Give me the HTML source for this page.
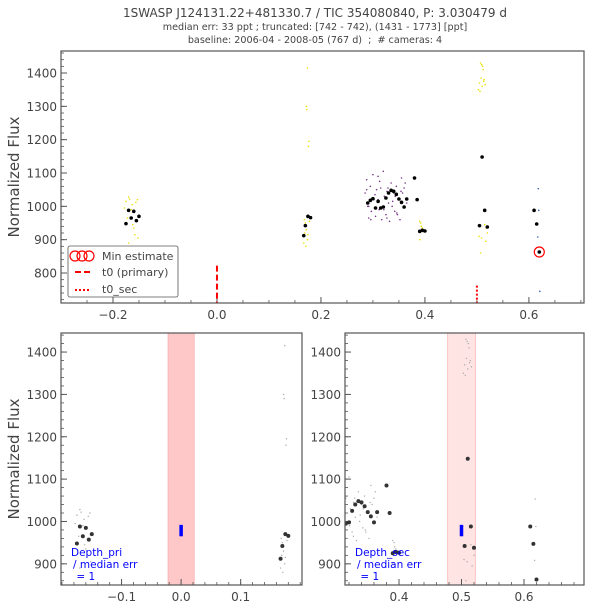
<!DOCTYPE html>
<html><head><meta charset="utf-8"><style>
body{margin:0;background:#fff;}
svg{display:block;font-family:"DejaVu Sans","Liberation Sans",sans-serif;}
</style></head><body>
<svg id="fig" width="589" height="609" viewBox="0 0 589 609" xmlns="http://www.w3.org/2000/svg">
<text x="315" y="17" text-anchor="middle" font-size="12" fill="#444">1SWASP J124131.22+481330.7 / TIC 354080840, P: 3.030479 d</text>
<text x="315" y="30" text-anchor="middle" font-size="9.6" fill="#444">median err: 33 ppt ; truncated: [742 - 742), (1431 - 1773] [ppt]</text>
<text x="315" y="43" text-anchor="middle" font-size="9.6" fill="#444" xml:space="preserve">baseline: 2006-04 - 2008-05 (767 d)  ;  # cameras: 4</text>
<g id="top"></g>
<g id="bl"></g>
<g id="br"></g>
</svg>
<script>
const binX=[-0.175,-0.17,-0.165,-0.16,-0.155,-0.15,0.167,0.17,0.175,0.18,0.29,0.295,0.3,0.305,0.31,0.315,0.32,0.325,0.33,0.335,0.34,0.345,0.35,0.355,0.36,0.365,0.38,0.385,0.39,0.395,0.4,0.505,0.51,0.515,0.52,0.61,0.615,0.62];
const binY=[948,988,965,985,957,970,912,942,970,966,1010,1018,1023,995,1015,995,998,1025,1040,1048,1045,1036,1022,1012,998,1022,1085,1020,925,928,926,942,1148,988,938,988,947,863];
const yelX=[-0.178,-0.175,-0.172,-0.17,-0.168,-0.165,-0.163,-0.16,-0.158,-0.156,-0.155,-0.153,-0.152,-0.17,-0.162,0.174,0.172,0.173,0.177,0.176,0.168,0.17,0.172,0.169,0.174,0.171,0.167,0.178,0.175,0.39,0.392,0.395,0.398,0.39,0.393,0.503,0.505,0.507,0.509,0.511,0.512,0.514,0.516,0.506,0.508,0.51,0.513,0.515,0.518,0.52,0.504,0.509,0.517,0.507];
const yelY=[995,1015,965,1028,1022,990,1005,935,915,1012,960,1020,905,890,945,1415,1300,1290,1195,1180,960,950,930,920,900,880,890,955,915,955,950,935,930,900,940,1350,1370,1430,1425,1420,1410,1380,1365,1345,1385,1360,1375,945,935,920,910,905,895,860];
const purX=[0.285,0.288,0.29,0.292,0.295,0.297,0.3,0.302,0.305,0.307,0.31,0.312,0.315,0.317,0.32,0.322,0.325,0.327,0.33,0.332,0.335,0.337,0.34,0.342,0.345,0.347,0.35,0.352,0.355,0.357,0.36,0.362,0.365,0.288,0.296,0.304,0.313,0.321,0.329,0.338,0.346,0.354,0.292,0.31,0.327,0.343,0.36];
const purY=[1040,1080,1000,965,1060,985,1095,1020,970,1050,1090,990,1055,960,1105,1030,975,1045,1010,955,1070,1000,1040,985,1060,975,1020,960,1085,1040,995,1070,1010,1050,960,1035,1075,990,1055,1015,980,1045,1000,1020,965,1030,1055];
const bluX=[0.618,0.619,0.617,0.621];
const bluY=[1053,988,908,745];
const xTop=[-0.2,0,0.2,0.4,0.6], yTop=[800,900,1000,1100,1200,1300,1400];
const xBL=[-0.1,0,0.1], xBR=[0.4,0.5,0.6], yBot=[900,1000,1100,1200,1300,1400];
const NS="http://www.w3.org/2000/svg";
function el(p,t,a){const e=document.createElementNS(NS,t);for(const k in a)e.setAttribute(k,a[k]);p.appendChild(e);return e;}
function panel(g,L,R,T,B,x0,x1,y0,y1,xt,yt,minorX,minorY,ylab){
  const sx=v=>L+(v-x0)/(x1-x0)*(R-L), sy=v=>B-(v-y0)/(y1-y0)*(B-T);
  for(let v=Math.ceil(x0/minorX)*minorX;v<=x1;v+=minorX){const x=sx(v);const l=el(g,'line',{x1:x,x2:x,y1:B,y2:B-3,stroke:'#555','stroke-width':0.8});}
  for(let v=Math.ceil(y0/minorY)*minorY;v<=y1;v+=minorY){const y=sy(v);const l=el(g,'line',{x1:L,x2:L+3,y1:y,y2:y,stroke:'#555','stroke-width':0.8});}
  xt.forEach(v=>{const x=sx(v);const l=el(g,'line',{x1:x,x2:x,y1:B,y2:B-6,stroke:'#555'});
    const t=el(g,'text',{x:x,y:B+16,'text-anchor':'middle','font-size':12,fill:'#444'});t.textContent=(v<0?'\u2212':'')+Math.abs(v).toFixed(1);});
  yt.forEach(v=>{const y=sy(v);const l=el(g,'line',{x1:L,x2:L+6,y1:y,y2:y,stroke:'#555'});
    const t=el(g,'text',{x:L-4,y:y+4.5,'text-anchor':'end','font-size':12,fill:'#444'});t.textContent=v;});
  if(ylab){const t=el(g,'text',{x:19,y:(T+B)/2,'text-anchor':'middle','font-size':15,fill:'#444',transform:`rotate(-90 19 ${(T+B)/2})`});t.textContent='Normalized Flux';}
  return {sx,sy};
}
function frame(g,L,R,T,B){const r=el(g,'rect',{x:L,y:T,width:R-L,height:B-T,fill:'none',stroke:'#555','stroke-width':1.2});}
function clip(id,L,R,T,B){const c=el(document.getElementById('fig'),'clipPath',{id:id});el(c,'rect',{x:L,y:T,width:R-L,height:B-T});}
function dots(g,X,Y,sx,sy,r,fill,name){X.forEach((x,i)=>{const c=el(g,'circle',{cx:sx(x),cy:sy(Y[i]),r:r,fill:fill});});}

(function(){const g=document.getElementById('top');const L=61,R=584,T=51,B=303;
 clip('ct',L,R,T,B);
 const {sx,sy}=panel(g,L,R,T,B,-0.3,0.706,710,1466,xTop,yTop,0.05,20,true);
 const d=el(g,'g',{'clip-path':'url(#ct)'});
 dots(d,yelX,yelY,sx,sy,0.8,'#e8e000','yellow-point');
 dots(d,purX,purY,sx,sy,0.8,'#7a3a8a','purple-point');
 dots(d,bluX,bluY,sx,sy,0.8,'#3060b0','blue-point');
 dots(d,binX,binY,sx,sy,1.8,'#000','binned-point');
 let l=el(d,'line',{x1:sx(0),x2:sx(0),y1:sy(822),y2:B,stroke:'red','stroke-width':2,'stroke-dasharray':'6,3'});
 l=el(d,'line',{x1:sx(0.5),x2:sx(0.5),y1:sy(762),y2:B,stroke:'red','stroke-width':2,'stroke-dasharray':'2,2'});
 const mc=el(d,'circle',{cx:sx(0.62),cy:sy(863),r:5,fill:'none',stroke:'red','stroke-width':1.2});
 frame(g,L,R,T,B);
 const lg=el(g,'g',{});
 el(lg,'rect',{x:68,y:246,width:110,height:51,rx:2,fill:'#fff',stroke:'#555','stroke-width':0.8});
 [75,82,89].forEach(cx=>el(lg,'circle',{cx:cx,cy:256,r:5,fill:'none',stroke:'red','stroke-width':1.2}));
 el(lg,'line',{x1:75,x2:90,y1:272,y2:272,stroke:'red','stroke-width':2,'stroke-dasharray':'6,3'});
 el(lg,'line',{x1:75,x2:90,y1:290,y2:290,stroke:'red','stroke-width':2,'stroke-dasharray':'2,2'});
 [['Min estimate',260,'legend-entry-min'],['t0 (primary)',276,'legend-entry-t0'],['t0_sec',293,'legend-entry-t0-sec']].forEach(a=>{const t=el(lg,'text',{x:102,y:a[1],'font-size':11,fill:'#444'});t.textContent=a[0];});
})();

function bottom(id,L,R,x0,x1,xt,band,bandCol,errX,label){
 const g=document.getElementById(id);const T=333,B=585;
 clip('c'+id,L,R,T,B);
 const b=el(g,'rect',{});
 const {sx,sy}=panel(g,L,R,T,B,x0,x1,850,1445,xt,yBot,0.02,20,id==='bl');
 b.setAttribute('x',sx(band[0]));b.setAttribute('y',T);b.setAttribute('width',sx(band[1])-sx(band[0]));b.setAttribute('height',B-T);b.setAttribute('fill',bandCol);b.setAttribute('stroke','#f4a0a0');b.setAttribute('stroke-width',0.6);
 
 const d=el(g,'g',{'clip-path':'url(#c'+id+')'});
 dots(d,yelX.concat(purX,bluX),yelY.concat(purY,bluY),sx,sy,0.7,'#aaa','raw-point');
 dots(d,binX,binY,sx,sy,2,'#333','binned-point');
 const e=el(d,'line',{x1:sx(errX),x2:sx(errX),y1:sy(965),y2:sy(992),stroke:'blue','stroke-width':3.5});
 const tx=el(g,'text',{x:L+10,y:556,'font-size':10.5,fill:'blue'});
 [[label,0],['/ median err',12],['  = 1',24]].forEach(a=>{const ts=el(tx,'tspan',{x:L+10+(a[1]?2:0),dy:a[1]?12:0});ts.textContent=a[0];ts.setAttribute('xml:space','preserve');});
 frame(g,L,R,T,B);
}
bottom('bl',61,302,-0.2017,0.203,xBL,[-0.022,0.022],'#ffc8c8',0,'Depth_pri');
bottom('br',345,584,0.3136,0.696,xBR,[0.478,0.522],'#ffe4e4',0.5,'Depth_sec');
</script>
</body></html>
